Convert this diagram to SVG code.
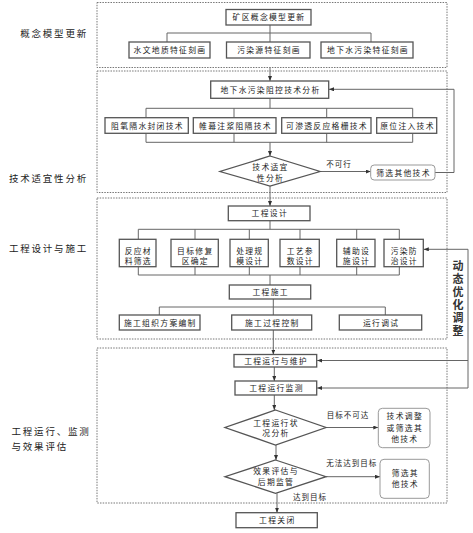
<svg xmlns="http://www.w3.org/2000/svg" width="473" height="533" viewBox="0 0 473 533">
<defs>
<marker id="ah" markerWidth="5" markerHeight="4" refX="5" refY="2" orient="auto" markerUnits="userSpaceOnUse">
<path d="M0,0 L5,2 L0,4 Z" fill="#333"/>
</marker>
<style>
.b{fill:#fff;stroke:#555;stroke-width:1.3}
.r{fill:#fff;stroke:#999;stroke-width:1}
.t{font-family:"Noto Sans CJK SC",sans-serif;font-size:7.8px;letter-spacing:1.3px;fill:#222;text-anchor:middle}
.s{font-family:"Noto Sans CJK SC",sans-serif;font-size:7.5px;letter-spacing:1px;fill:#222;text-anchor:middle}
.l{font-family:"Noto Sans CJK SC",sans-serif;font-size:9.5px;letter-spacing:1.8px;fill:#222}
.v{font-family:"Noto Sans CJK SC",sans-serif;font-size:11px;font-weight:bold;fill:#333;letter-spacing:2px;writing-mode:vertical-rl}
.c{fill:none;stroke:#666;stroke-width:1}
.a{fill:none;stroke:#666;stroke-width:1;marker-end:url(#ah)}
.d{fill:none;stroke:#777;stroke-width:1;stroke-dasharray:1.5 1.2}
</style>
</defs>
<rect width="473" height="533" fill="#fff"/>

<g id="stages">
<rect class="d" x="97" y="2.5" width="350" height="65"/>
<rect class="d" x="97" y="71" width="350" height="121.5"/>
<rect class="d" x="97" y="198" width="350" height="141"/>
<rect class="d" x="97" y="348" width="350" height="155"/>
<text class="l" x="88" y="36.5" text-anchor="end">概念模型更新</text>
<text class="l" x="88" y="181.5" text-anchor="end">技术适宜性分析</text>
<text class="l" x="88" y="251.5" text-anchor="end">工程设计与施工</text>
<text class="l"><tspan x="11.5" y="435">工程运行、监测</tspan><tspan x="11.5" y="449.5">与效果评估</tspan></text>
<text class="v" x="458" y="260">动态优化调整</text>
</g>

<g id="connectors">
<path class="c" d="M270,25 V33 M167,33 H371 M167,33 V42 M270,33 V42 M371,33 V42"/>
<path class="a" d="M270,67.5 V81"/>
<path class="c" d="M270,98.3 V108.3 M146,108.3 H412.7 M146,108.3 V117.7 M234,108.3 V117.7 M326.7,108.3 V117.7 M412.7,108.3 V117.7"/>
<path class="c" d="M146,133.3 V142.3 M234,133.3 V142.3 M326.7,133.3 V142.3 M412.7,133.3 V142.3 M146,142.3 H412.7"/>
<path class="a" d="M270,142.3 V156"/>
<path class="a" d="M320,171.5 H370.7"/>
<path class="a" d="M435,172.5 H454 V89.3 H329"/>
<path class="a" d="M270,186 V206"/>
<path class="c" d="M270,220.7 V229.3 M138.3,229.3 H399.3 M138.3,229.3 V239.3 M195,229.3 V239.3 M249.3,229.3 V239.3 M300,229.3 V239.3 M356.7,229.3 V239.3 M399.3,229.3 V239.3"/>
<path class="c" d="M138.3,266.7 V275 M195,266.7 V275 M249.3,266.7 V275 M300,266.7 V275 M356.7,266.7 V275 M399.3,266.7 V275 M138.3,275 H399.3 M270,275 V285"/>
<path class="c" d="M273.3,299 V307 M159.3,307 H385.3 M159.3,307 V315 M273.3,307 V315 M385.3,307 V315"/>
<path class="a" d="M273.3,330 V354.5"/>
<path class="a" d="M274.3,367 V381"/>
<path class="a" d="M274.3,395 V410"/>
<path class="a" d="M326,427.5 H378.3"/>
<path class="a" d="M276,445 V460"/>
<path class="a" d="M326,476.7 H380"/>
<path class="a" d="M277,493.3 V512.7"/>
<path class="c" d="M468,249.3 V388"/>
<path class="a" d="M468,249.3 H423.8"/>
<path class="a" d="M468,360.5 H317.2"/>
<path class="a" d="M468,388 H317.2"/>
<text class="s" x="339" y="167">不可行</text>
<text class="s" x="348" y="418">目标不可达</text>
<text class="s" x="351.7" y="466">无法达到目标</text>
<text class="s" x="310" y="500">达到目标</text>
</g>

<g id="n-kqgn"><rect class="b" x="226" y="9.5" width="85" height="15.5"/><text class="t" x="269" y="20">矿区概念模型更新</text></g>
<g id="n-swdz"><rect class="b" x="129" y="42" width="81" height="16"/><text class="t" x="170" y="53">水文地质特征刻画</text></g>
<g id="n-wry"><rect class="b" x="226.5" y="42" width="83.5" height="16"/><text class="t" x="269" y="53">污染源特征刻画</text></g>
<g id="n-dxs"><rect class="b" x="321" y="42" width="92" height="16"/><text class="t" x="368" y="53">地下水污染特征刻画</text></g>

<g id="n-zkfx"><rect class="b" x="210.7" y="81" width="118" height="17.3"/><text class="t" x="270.5" y="92.7">地下水污染阻控技术分析</text></g>
<g id="n-zy"><rect class="b" x="105" y="117.7" width="83.3" height="15.6"/><text class="t" x="147.5" y="128.5">阻氧隔水封闭技术</text></g>
<g id="n-wm"><rect class="b" x="193.3" y="117.7" width="82.7" height="15.6"/><text class="t" x="235.5" y="128.5">帷幕注浆阻隔技术</text></g>
<g id="n-kst"><rect class="b" x="281.7" y="117.7" width="89.3" height="15.6"/><text class="t" x="327" y="128.5">可渗透反应格栅技术</text></g>
<g id="n-yw"><rect class="b" x="376.7" y="117.7" width="60" height="15.6"/><text class="t" x="407.5" y="128.5">原位注入技术</text></g>
<g id="n-syfx"><path class="b" d="M270,156 L320,171.5 L270,186 L220,171.5 Z"/><text class="t" x="270.5" y="169.7">技术适宜</text><text class="t" x="270.5" y="181.3">性分析</text></g>
<g id="n-sx1"><rect class="r" x="370.7" y="165" width="64.3" height="15" rx="3.5"/><text class="t" x="403.5" y="175.5">筛选其他技术</text></g>

<g id="n-gcsj"><rect class="b" x="228.3" y="206" width="81.7" height="14.7"/><text class="t" x="269.8" y="216.3">工程设计</text></g>
<g id="n-fy"><rect class="b" x="119.3" y="239.3" width="36.7" height="27.4"/><text class="t" x="138.3" y="254">反应材</text><text class="t" x="138.3" y="264">料筛选</text></g>
<g id="n-mb"><rect class="b" x="171" y="239.3" width="47.3" height="27.4"/><text class="t" x="195.3" y="254">目标修复</text><text class="t" x="195.3" y="264">区确定</text></g>
<g id="n-cl"><rect class="b" x="230" y="239.3" width="38.3" height="27.4"/><text class="t" x="249.8" y="254">处理规</text><text class="t" x="249.8" y="264">模设计</text></g>
<g id="n-gy"><rect class="b" x="280" y="239.3" width="39.3" height="27.4"/><text class="t" x="300.3" y="254">工艺参</text><text class="t" x="300.3" y="264">数设计</text></g>
<g id="n-fz"><rect class="b" x="336.7" y="239.3" width="38.3" height="27.4"/><text class="t" x="356.5" y="254">辅助设</text><text class="t" x="356.5" y="264">施设计</text></g>
<g id="n-wrfz"><rect class="b" x="384" y="239.3" width="39.3" height="27.4"/><text class="t" x="404.3" y="254">污染防</text><text class="t" x="404.3" y="264">治设计</text></g>
<g id="n-gcsg"><rect class="b" x="229.3" y="285" width="81.4" height="14"/><text class="t" x="270.7" y="295">工程施工</text></g>
<g id="n-sgzz"><rect class="b" x="119.3" y="315" width="80.7" height="15"/><text class="t" x="160.3" y="325.5">施工组织方案编制</text></g>
<g id="n-sggc"><rect class="b" x="231.7" y="315" width="80" height="15"/><text class="t" x="272.3" y="325.5">施工过程控制</text></g>
<g id="n-yxts"><rect class="b" x="339.3" y="315" width="82.4" height="15"/><text class="t" x="381.2" y="325.5">运行调试</text></g>

<g id="n-yxwh"><rect class="b" x="234" y="354.5" width="82.7" height="12.5"/><text class="t" x="276" y="363.8">工程运行与维护</text></g>
<g id="n-yxjc"><rect class="b" x="235" y="381" width="81.7" height="14"/><text class="t" x="276.5" y="391">工程运行监测</text></g>
<g id="n-zkfx2"><path class="b" d="M275.5,410 L326,427.5 L275.5,445 L225,427.5 Z"/><text class="t" x="276" y="425.7">工程运行状</text><text class="t" x="276" y="435.7">况分析</text></g>
<g id="n-jstz"><rect class="r" x="378.3" y="408.3" width="51.7" height="39.4" rx="4"/><text class="t" x="404.8" y="419">技术调整</text><text class="t" x="404.8" y="431.3">或筛选其</text><text class="t" x="404.8" y="442.3">他技术</text></g>
<g id="n-xgpg"><path class="b" d="M275.5,460 L326,476.7 L275.5,493.3 L225,476.7 Z"/><text class="t" x="276" y="474">效果评估与</text><text class="t" x="276" y="484.7">后期监管</text></g>
<g id="n-sx2"><rect class="r" x="380" y="459.3" width="49.3" height="39" rx="4"/><text class="t" x="405.3" y="476.3">筛选其</text><text class="t" x="405.3" y="487">他技术</text></g>
<g id="n-gcgb"><rect class="b" x="236" y="512.7" width="81.3" height="15"/><text class="t" x="277.3" y="523.2">工程关闭</text></g>
</svg>
